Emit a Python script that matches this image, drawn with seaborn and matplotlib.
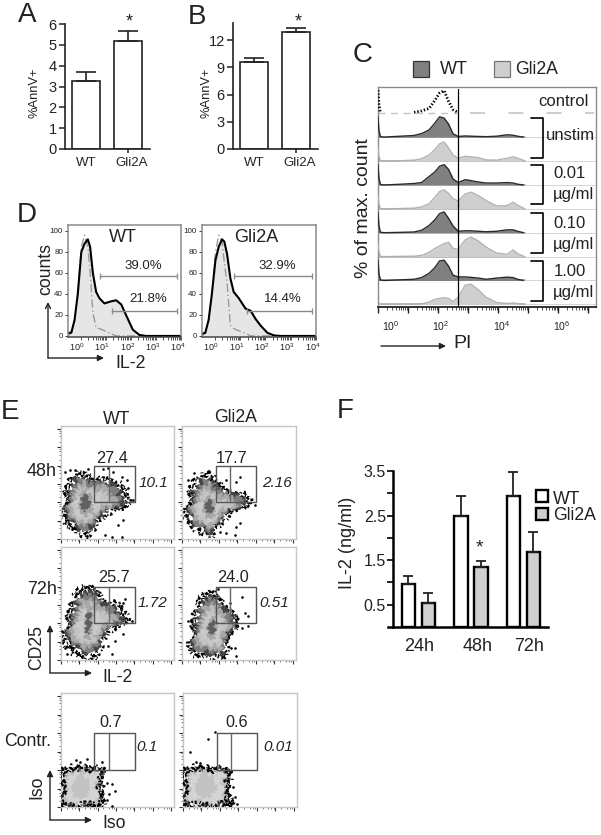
import numpy as np
import pandas as pd
import seaborn as sns
import matplotlib
matplotlib.use('Agg')
import matplotlib.pyplot as plt
from matplotlib.patches import Rectangle

sns.set_theme(style='white')
plt.rcParams['font.family'] = ['Liberation Sans', 'DejaVu Sans']
plt.rcParams['mathtext.fontset'] = 'custom'
plt.rcParams['mathtext.rm'] = 'Liberation Sans'
INK = '#222222'

# panels A, B
geno = ['WT', 'Gli2A']
annv_a = [3.27, 5.2]
annv_a_err = [0.44, 0.46]
annv_b = [9.6, 12.9]
annv_b_err = [0.45, 0.4]

# panel C, log10 PI grid and % of max per row
pi_log = [0, 0.03, 0.08, 0.2, 0.6, 1.2, 1.45, 1.7, 1.9, 2.05, 2.2, 2.35, 2.5, 2.67, 2.9, 3.1, 3.35, 3.6, 3.95, 4.3, 4.5, 4.65, 4.85]
c_control = [97, 40, 0, 0, 0, 4, 10, 20, 55, 85, 95, 50, 15, 3, 0, 0, 0, 0, 0, 0, 0, 0, 0]
c_unstim_wt = [85, 30, 2, 0, 3, 7, 15, 30, 60, 85, 80, 55, 14, 3, 5, 4, 3, 2, 4, 10, 8, 4, 0]
c_unstim_gli = [60, 20, 1, 0, 1, 4, 10, 25, 50, 72, 80, 55, 25, 12, 20, 18, 14, 5, 4, 12, 18, 12, 3]
c_001_wt = [85, 30, 2, 0, 2, 6, 10, 35, 55, 78, 85, 65, 25, 10, 22, 18, 12, 8, 8, 10, 8, 3, 0]
c_001_gli = [60, 20, 1, 0, 1, 3, 8, 22, 50, 72, 80, 65, 42, 33, 62, 70, 55, 35, 12, 14, 28, 15, 3]
c_010_wt = [85, 30, 2, 0, 1, 3, 10, 30, 55, 80, 87, 60, 28, 6, 8, 8, 6, 4, 6, 12, 12, 6, 0]
c_010_gli = [60, 20, 1, 0, 1, 2, 5, 18, 35, 45, 55, 60, 35, 30, 70, 82, 65, 40, 15, 10, 28, 12, 2]
c_100_wt = [85, 30, 2, 0, 2, 5, 12, 30, 55, 82, 85, 60, 22, 15, 15, 13, 10, 5, 10, 14, 12, 5, 0]
c_100_gli = [0, 0, 0, 0, 0, 1, 2, 10, 22, 25, 28, 25, 12, 30, 80, 85, 60, 30, 8, 4, 6, 3, 0]
dose_labels = ['unstim', '0.01', 'µg/ml', '0.10', 'µg/ml', '1.00', 'µg/ml']

# panel D, log10 IL-2 grid and % of max
il2_log = [-0.5, -0.37, -0.24, -0.11, 0.03, 0.16, 0.29, 0.38, 0.49, 0.62, 0.75, 0.95, 1.22, 1.42, 1.62, 1.81, 2.08, 2.34, 2.6, 4.0]
d_wt = [3, 3, 15, 40, 80, 88, 92, 85, 60, 42, 36, 31, 33, 34, 30, 20, 6, 1, 0, 0]
d_wt_iso = [0, 3, 15, 40, 85, 96, 85, 62, 22, 8, 7, 5, 2, 0, 0, 0, 0, 0, 0, 0]
d_gli = [2, 3, 15, 40, 72, 85, 92, 90, 78, 55, 42, 36, 26, 24, 16, 10, 3, 0.5, 0, 0]
d_gli_iso = [0, 3, 15, 40, 80, 96, 90, 70, 50, 10, 7, 5, 2.5, 0, 0, 0, 0, 0, 0, 0]

# panel E, outlines of the dot clouds in channel units
p1_x = [7, 10, 22, 37, 62, 87, 107, 152, 187, 204, 194, 162, 132, 102, 82, 52, 22]
p1_y = [67, 127, 167, 192, 202, 185, 177, 182, 157, 117, 95, 95, 72, 37, 7, 17, 37]
p1_core_x = [62, 75, 87, 86, 72, 60]
p1_core_y = [125, 132, 118, 92, 82, 98]
p1_out_x = [12, 27, 42, 82, 127, 142, 157, 182, 197, 202, 217, 187, 172, 132, 152, 182]
p1_out_y = [202, 207, 207, 209, 210, 212, 202, 187, 177, 152, 117, 57, 42, 12, 7, 7]

p2_x = [10, 14, 27, 42, 77, 97, 122, 152, 187, 207, 182, 147, 127, 107, 87, 57, 27]
p2_y = [67, 107, 152, 182, 202, 177, 152, 142, 132, 112, 97, 87, 62, 37, 7, 17, 37]
p2_core_x = [72, 84, 94, 90, 78, 70]
p2_core_y = [110, 117, 100, 80, 72, 90]
p2_out_x = [17, 37, 79, 132, 162, 172, 217, 172, 162, 132, 112, 157]
p2_out_y = [177, 197, 202, 177, 172, 187, 102, 47, 37, 17, 22, 12]

p3_x = [7, 17, 32, 52, 82, 107, 132, 167, 197, 202, 172, 142, 122, 107, 57, 27]
p3_y = [57, 117, 167, 212, 222, 207, 177, 167, 132, 117, 107, 87, 47, 7, 7, 32]
p3_core_x = [78, 88, 90, 85, 76, 74]
p3_core_y = [145, 140, 110, 80, 80, 110]
p3_out_x = [192, 187, 212, 187, 162, 142, 152, 17, 12, 2]
p3_out_y = [182, 172, 117, 77, 57, 42, 17, 17, 37, 87]

p4_x = [22, 30, 37, 54, 82, 107, 132, 157, 167, 147, 132, 127, 62, 32]
p4_y = [27, 87, 137, 187, 207, 192, 162, 132, 107, 87, 47, 7, 7, 17]
p4_core_x = [84, 96, 100, 92, 82, 80]
p4_core_y = [112, 117, 95, 75, 75, 95]
p4_out_x = [107, 142, 177, 187, 197, 197, 177, 157, 162, 17, 27, 147]
p4_out_y = [212, 172, 189, 142, 132, 102, 97, 37, 12, 117, 117, 37]

p5_x = [2, 2, 40, 80, 130, 122, 118, 128, 60]
p5_y = [3, 115, 118, 117, 112, 75, 40, 5, 2]
p5_core_x = [50, 70, 78, 66, 48, 40]
p5_core_y = [80, 78, 58, 38, 40, 60]
p5_out_x = [46, 78, 58, 123, 138, 153, 163, 143, 138, 153]
p5_out_y = [140, 142, 135, 135, 70, 68, 47, 40, 20, 2]

p6_x = [2, 2, 40, 90, 145, 135, 130, 150, 60]
p6_y = [3, 115, 118, 115, 110, 70, 40, 5, 2]
p6_core_x = [55, 78, 88, 72, 52, 44]
p6_core_y = [85, 82, 60, 40, 44, 62]
p6_out_x = [20, 73, 95, 40, 50, 150, 155, 162]
p6_out_y = [165, 202, 222, 135, 130, 60, 30, 8]

# panel F
times = ['24h', '48h', '72h']
il2_wt = [0.96, 2.48, 2.95]
il2_wt_err = [0.19, 0.45, 0.52]
il2_gli = [0.53, 1.35, 1.68]
il2_gli_err = [0.24, 0.13, 0.45]

W, H = 601, 835
fig = plt.figure(figsize=(W / 100, H / 100), dpi=100)


def px_ax(x0, y0, x1, y1):
    return fig.add_axes([x0 / W, 1 - y1 / H, (x1 - x0) / W, (y1 - y0) / H])


# goes on top of everything, pixel coords for the labels and arrows
over = fig.add_axes([0, 0, 1, 1], zorder=20)
over.set_xlim(0, W)
over.set_ylim(H, 0)
over.axis('off')


def txt(x, y, s, size=12, **kw):
    kw.setdefault('ha', 'center')
    kw.setdefault('va', 'center')
    kw.setdefault('color', INK)
    over.text(x, y, s, fontsize=size, **kw)


def arrow(x0, y0, x1, y1, style='-|>'):
    over.annotate('', xy=(x1, y1), xytext=(x0, y0),
                  arrowprops=dict(arrowstyle=style, color='#222222', lw=1.0, shrinkA=0, shrinkB=0, mutation_scale=9))


for s, x, y in [('A', 27, 15), ('B', 197, 17), ('C', 363, 55), ('D', 27, 215), ('E', 10, 412), ('F', 345, 411)]:
    txt(x, y, s, 20)


def annv_panel(ax, vals, errs, ymax, ticks):
    sns.barplot(x=geno, y=vals, color='white', edgecolor=INK, linewidth=1.2, width=0.667,
                saturation=1, errorbar=None, ax=ax)
    ax.errorbar([0, 1], vals, yerr=[[0, 0], errs], fmt='none', ecolor=INK, elinewidth=1.2, capsize=7, capthick=1.2)
    ax.set_xlim(-0.505, 1.52)
    ax.set_ylim(0, ymax)
    ax.set_yticks(ticks)
    ax.set_xticks([0, 1.08], geno, minor=False)
    ax.set_xticks([0, 1], minor=True)
    ax.tick_params(axis='x', which='major', length=0, pad=6, labelsize=9.5, labelcolor=INK)
    ax.tick_params(axis='x', which='minor', length=3, width=1.1, color=INK, bottom=True)
    ax.tick_params(axis='y', length=4, width=1.1, color=INK, labelsize=10.5, labelcolor=INK, pad=2, left=True)
    ax.set_xlabel('')
    ax.set_ylabel('')
    sns.despine(ax=ax)
    for sp in ['left', 'bottom']:
        ax.spines[sp].set_linewidth(1.2)
        ax.spines[sp].set_color(INK)
    ax.patch.set_alpha(0)


annv_panel(px_ax(65, 24, 150, 149), annv_a, annv_a_err, 6, [0, 1, 2, 3, 4, 5, 6])
annv_panel(px_ax(233, 23, 318, 149), annv_b, annv_b_err, 13.9, [0, 3, 6, 9, 12])
txt(35, 93, '%AnnV+', 9.3, rotation=90)
txt(207, 93, '%AnnV+', 9.3, rotation=90)
txt(129, 22, '*', 13)
txt(298, 22, '*', 13)

# panel C
ax = px_ax(378, 87, 596, 307)
ax.set_xlim(0, 7.26)
ax.set_ylim(-11, 910)
rows = [c_unstim_wt, c_unstim_gli, c_001_wt, c_001_gli, c_010_wt, c_010_gli, c_100_wt, c_100_gli]
bases = [700, 600, 500, 400, 300, 200, 100, 0]
for i, (vals, base) in enumerate(zip(rows, bases)):
    is_wt = i % 2 == 0
    ax.axhline(base, color='#d4d4d4', lw=0.7, zorder=1)
    ax.plot([0, 4.9], [base, base], color='#bdbdbd', lw=1.4, zorder=1)
    y = np.array(vals) + base
    ax.fill_between(pi_log, base, y, color='#808080' if is_wt else '#cfcfcf', lw=0, zorder=2)
    sns.lineplot(x=pi_log, y=y, color='#2a2a2a' if is_wt else '#b0b0b0', lw=1.0 if is_wt else 0.9,
                 sort=False, estimator=None, ax=ax, zorder=3)
# control row is dotted, no fill, nothing drawn on the baseline itself
sns.lineplot(x=pi_log[:3], y=np.array(c_control[:3]) + 800, color='black', lw=2.0, sort=False,
             estimator=None, linestyle=(0, (0.5, 0.7)), ax=ax, zorder=3)
sns.lineplot(x=pi_log[5:14], y=np.array(c_control[5:14]) + 800, color='black', lw=2.0, sort=False,
             estimator=None, linestyle=(0, (0.5, 0.7)), ax=ax, zorder=3)
ax.plot([0, 2.65], [800, 800], color='#c4c4c4', lw=1.0, ls=(0, (5, 4)), zorder=1)
ax.plot([3.05, 7.2], [800, 800], color='#c4c4c4', lw=1.2, ls=(0, (9, 14)), zorder=1)
ax.axvline(2.68, color='black', lw=0.9, ymax=0.99, zorder=4)
for top, bot in [(781, 613), (585, 419), (383, 215), (182, 14)]:
    ax.plot([5.11, 5.5, 5.5, 5.11], [top, top, bot, bot], color='black', lw=1.2, zorder=4)
ax.set_xticks(range(8), [''] * 8)
ax.set_xticks([d + np.log10(k) for d in range(7) for k in range(2, 10)], minor=True)
ax.tick_params(axis='x', which='major', length=4, width=1.0, color='#222222', bottom=True)
ax.tick_params(axis='x', which='minor', length=2.2, width=0.6, color='#333333', bottom=True)
ax.set_yticks([])
for sp in ax.spines.values():
    sp.set_color('#8a8a8a')
    sp.set_linewidth(1.0)
ax.spines['bottom'].set_color('#222222')
ax.spines['bottom'].set_linewidth(1.3)
for x, s in [(391, '$\\mathregular{10^0}$'), (441, '$\\mathregular{10^2}$'), (502, '$\\mathregular{10^4}$'), (562, '$\\mathregular{10^6}$')]:
    txt(x, 326, s, 7.5)
over.add_patch(Rectangle((413, 61), 16, 16, fc='#808080', ec='#333333', lw=0.9))
over.add_patch(Rectangle((494, 61), 16, 16, fc='#cfcfcf', ec='#777777', lw=0.9))
txt(454, 69, 'WT', 13)
txt(537, 70, 'Gli2A', 12.7)
txt(363, 208, '% of max. count', 14, rotation=90)
txt(463, 344, 'PI', 14)
arrow(381, 346, 446, 346)
txt(563, 102, 'control', 12)
for y, s in zip([135, 173, 195, 223, 244, 271, 292], dose_labels):
    txt(570 if s != 'µg/ml' else 574, y, s, 12)


# panel D
def il2_panel(box, bold, iso):
    ax = px_ax(*box)
    ax.fill_between(il2_log, 0, bold, color='#e6e6e6', lw=0)
    sns.lineplot(x=il2_log, y=iso, color='#9a9a9a', lw=1.0, sort=False, estimator=None, linestyle=(0, (6, 2, 1, 2)), ax=ax)
    sns.lineplot(x=il2_log, y=bold, color='black', lw=1.5, sort=False, estimator=None, ax=ax)
    ax.set_xlim(-0.5, 4)
    ax.set_ylim(-1, 105.7)
    ax.set_yticks([0, 20, 40, 60, 80, 100])
    ax.set_xticks(np.arange(5) - 0.14, ['$\\mathregular{10^%d}$' % d for d in range(5)])
    ax.set_xticks([d + np.log10(k) for d in range(4) for k in range(2, 10)] + [0, 1, 2, 3, 4], minor=True)
    ax.tick_params(axis='x', which='major', length=0, labelsize=6.5, pad=3, labelcolor=INK)
    ax.tick_params(axis='x', which='minor', length=1.8, width=0.6, color='#333333', bottom=True)
    ax.tick_params(axis='y', length=2.5, width=0.7, color='#333333', labelsize=5.8, pad=1, labelcolor=INK, left=True)
    ax.set_xlabel('')
    ax.set_ylabel('')
    for sp in ax.spines.values():
        sp.set_color('#8a8a8a')
        sp.set_linewidth(1.1)
    ax.spines['bottom'].set_color('#444444')
    for lo, level in [(0.78, 57), (1.26, 24)]:
        ax.plot([lo, 3.84], [level, level], color='#8a8a8a', lw=1.0, marker='|', ms=4, mew=0.9)
    return ax


il2_panel((68, 225, 181, 337), d_wt, d_wt_iso)
il2_panel((202, 225, 316, 337), d_gli, d_gli_iso)
txt(123, 237, 'WT', 13)
txt(256, 237, 'Gli2A', 13)
txt(143, 266, '39.0%', 9.5)
txt(148, 299, '21.8%', 9.5)
txt(277, 266, '32.9%', 9.5)
txt(283, 299, '14.4%', 9.5)
txt(46, 269, 'counts', 12.7, rotation=90)
txt(131, 363, 'IL-2', 12.8)
arrow(48, 358, 48, 302, '->')
arrow(48, 358, 104, 358)


# panel E
def flow_panel(box, ox, oy, cx, cy, dx, dy, top_lab, top_xy, it_lab, it_xy, dark_core=True):
    ax = px_ax(*box)
    ax.set_xlim(0, 339)
    ax.set_ylim(0, 339)
    ox, oy, cx, cy = map(np.array, (ox, oy, cx, cy))
    mx, my = cx.mean(), cy.mean()
    if dark_core:
        layers = [(0.88, '#444444'), (0.8, '#7e7e7e'), (0.7, '#a8a8a8'), (0.56, '#c2c2c2'), (0.42, '#cacaca')]
    else:
        layers = [(0.93, '#5a5a5a'), (0.88, '#c0c0c0'), (0.74, '#d4d4d4')]
    # speckled black rim: loose dotted rings over white, wobbled so it looks like dots
    for s, lw, dash in [(1.0, 2.2, (0.4, 1.1, 0.8, 0.6, 0.3, 1.4)), (0.94, 2.4, (0.6, 0.5, 0.3, 0.9))]:
        rx = mx + s * (ox - mx)
        ry = my + s * (oy - my)
        ring, = ax.plot(np.r_[rx, rx[0]], np.r_[ry, ry[0]], color='black', lw=lw, ls=(0, dash), zorder=4 if not dark_core else 1)
        ring.set_sketch_params(scale=3, length=14, randomness=20)
    for s, col in layers:
        patch, = ax.fill(mx + s * (ox - mx), my + s * (oy - my), color=col, lw=0, zorder=2)
        patch.set_sketch_params(scale=3, length=12, randomness=18)
    halo, = ax.fill(mx + 1.6 * (cx - mx), my + 1.6 * (cy - my), color='#a6a6a6' if dark_core else '#c2c2c2', lw=0, zorder=3)
    halo.set_sketch_params(scale=2, length=10, randomness=18)
    if dark_core:
        core, = ax.fill(cx, cy, color='#606060', lw=0, zorder=3)
        core.set_sketch_params(scale=2, length=10, randomness=18)
    sns.scatterplot(x=dx, y=dy, color='black', s=3.5, linewidth=0, ax=ax, zorder=4)
    # gate
    ax.plot([100, 221, 221, 100, 100], [110, 110, 220, 220, 110], color='#555555', lw=1.0, zorder=5)
    ax.plot([143, 143], [110, 220], color='#666666', lw=1.0, zorder=5)
    ax.text(top_xy[0], top_xy[1], top_lab, fontsize=11.7, ha='center', va='center', color=INK, zorder=6)
    ax.text(it_xy[0], it_xy[1], it_lab, fontsize=11, style='italic', ha='center', va='center', color=INK, zorder=6)
    major = np.arange(0, 340, 55)
    ax.set_xticks(major, [''] * len(major))
    ax.set_yticks(major, [''] * len(major))
    minor = [m + 55 * np.log10(k) for m in major[:-1] for k in range(2, 10, 2)]
    ax.set_xticks(minor, minor=True)
    ax.set_yticks(minor, minor=True)
    ax.tick_params(which='major', length=3, width=0.8, color='#333333', bottom=True, left=True)
    ax.tick_params(which='minor', length=1.6, width=0.5, color='#444444', bottom=True, left=True)
    ax.set_xlabel('')
    ax.set_ylabel('')
    for sp in ax.spines.values():
        sp.set_color('#c6c6c6')
        sp.set_linewidth(1.0)
    return ax


flow_panel((61, 426, 174, 539), p1_x, p1_y, p1_core_x, p1_core_y, p1_out_x, p1_out_y, '27.4', (154, 242), '10.1', (277, 169))
flow_panel((182, 426, 296, 539), p2_x, p2_y, p2_core_x, p2_core_y, p2_out_x, p2_out_y, '17.7', (147, 242), '2.16', (282, 169))
flow_panel((61, 547, 174, 660), p3_x, p3_y, p3_core_x, p3_core_y, p3_out_x, p3_out_y, '25.7', (160, 247), '1.72', (274, 172))
flow_panel((182, 547, 296, 660), p4_x, p4_y, p4_core_x, p4_core_y, p4_out_x, p4_out_y, '24.0', (152, 247), '0.51', (275, 172))
flow_panel((61, 693, 174, 807), p5_x, p5_y, p5_core_x, p5_core_y, p5_out_x, p5_out_y, '0.7', (149, 250), '0.1', (258, 177), dark_core=False)
flow_panel((183, 693, 297, 807), p6_x, p6_y, p6_core_x, p6_core_y, p6_out_x, p6_out_y, '0.6', (159, 250), '0.01', (283, 177), dark_core=False)
txt(117, 419, 'WT', 12.7)
txt(236, 418, 'Gli2A', 12.7)
txt(42, 471, '48h', 13)
txt(42, 589, '72h', 13)
txt(28, 741, 'Contr.', 12.7)
txt(37, 647, 'CD25', 12.7, rotation=90)
txt(118, 677, 'IL-2', 12.7)
txt(37, 787, 'Iso', 12.7, rotation=90)
txt(114, 823, 'Iso', 12.7)
arrow(50, 673, 50, 625)
arrow(50, 673, 92, 673)
arrow(50, 820, 50, 770)
arrow(50, 820, 92, 820)

# panel F
df = pd.DataFrame({'time': times * 2, 'il2': il2_wt + il2_gli, 'genotype': ['WT'] * 3 + ['Gli2A'] * 3})
ax = px_ax(388, 471, 548, 627)
sns.barplot(data=df, x='time', y='il2', hue='genotype', palette=['white', '#d0d0d0'], edgecolor='black', linewidth=1.7,
            width=0.76, gap=0.33, saturation=1, errorbar=None, legend=False, ax=ax)
pos = np.arange(3)
ax.errorbar(pos - 0.19, il2_wt, yerr=[[0] * 3, il2_wt_err], fmt='none', ecolor=INK, elinewidth=1.3, capsize=3.5, capthick=1.3)
ax.errorbar(pos + 0.19, il2_gli, yerr=[[0] * 3, il2_gli_err], fmt='none', ecolor=INK, elinewidth=1.3, capsize=3.5, capthick=1.3)
ax.set_xlim(-0.58, 2.47)
ax.set_ylim(0, 3.5)
ax.set_xticks([0.01, 1.13, 2.1], times)
ax.set_yticks([0.5, 1.5, 2.5, 3.5], ['0.5', '1.5', '2.5', '3.5'])
ax.set_yticks([1, 2, 3], minor=True)
ax.tick_params(axis='x', length=0, labelsize=13, pad=8, labelcolor=INK)
ax.tick_params(axis='y', which='both', length=4, width=1.2, color='black', labelsize=11.5, pad=1, labelcolor=INK, left=True)
ax.set_xlabel('')
ax.set_ylabel('')
sns.despine(ax=ax)
# y axis starts at x=393, the x axis sticks out to the left
ax.spines['left'].set_position(('data', -0.485))
ax.tick_params(axis='y', which='both', direction='out')
for sp in ['left', 'bottom']:
    ax.spines[sp].set_linewidth(1.8)
    ax.spines[sp].set_color('black')
ax.patch.set_alpha(0)
txt(348, 543, 'IL-2 (ng/ml)', 13, rotation=90)
txt(479, 548, '*', 14)
over.add_patch(Rectangle((536, 490), 12, 12, fc='white', ec='black', lw=1.7))
over.add_patch(Rectangle((536, 508), 12, 12, fc='#d0d0d0', ec='black', lw=1.7))
txt(553, 499, 'WT', 12.7, ha='left')
txt(553, 516, 'Gli2A', 12.7, ha='left')

fig.savefig('out.png', dpi=100)
